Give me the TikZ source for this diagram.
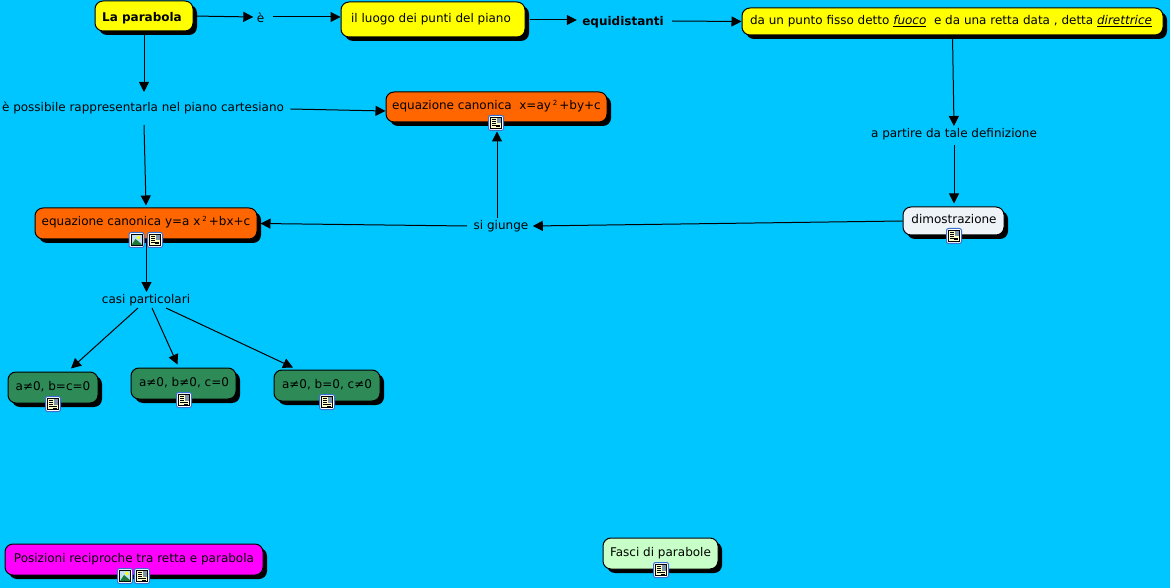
\documentclass[tikz,border=0pt]{standalone}
\usepackage{fontspec}
\setmainfont{DejaVu Sans}
\usetikzlibrary{arrows.meta,shadows}
\definecolor{sfondo}{HTML}{00C6FF}
\definecolor{giallo}{HTML}{FFFF00}
\definecolor{arancio}{HTML}{FF6600}
\definecolor{verde}{HTML}{2E8B57}
\definecolor{verdino}{HTML}{C8FFC8}
\definecolor{chiaro}{HTML}{EEF3F8}
\definecolor{fucsia}{HTML}{FF00FF}
\definecolor{bordoicona}{HTML}{3A6FD0}
\definecolor{crema}{HTML}{FFFFC8}
\definecolor{cielo}{HTML}{BFE0F0}
\definecolor{prato}{HTML}{1F7A3A}
\definecolor{foto}{HTML}{7F93A8}
\newcommand{\quadrato}{\raisebox{4pt}{\fontsize{7}{7}\selectfont 2}}
\tikzset{
	>={Triangle[length=10pt,width=10pt]},
	concept/.style={draw,rounded corners=8pt,inner sep=0pt,line width=1pt,
		drop shadow={shadow xshift=4pt,shadow yshift=-4pt,fill=black,opacity=1}},
	lifted/.style={text height=9pt,text depth=3pt},
	linking/.style={inner sep=0pt,text height=9pt,text depth=2pt},
	notepic/.pic={
		\draw[rounded corners=2pt,draw=bordoicona,fill=white,line width=1pt] (-7.5,-7.5) rectangle (7.5,7.5);
		\draw[fill=crema,line width=1pt] (-5.5,-5.5) rectangle (5.5,5.5);
		\fill[foto] (0.5,-5) rectangle (5,0.5);
		\foreach \y in {-3.5,-1.5,0.5,2.5} {\draw[line width=1pt] (-4,\y) -- (0,\y);}
		\foreach \y in {2.5,4} {\draw[line width=1pt] (0,\y) -- (4,\y);}
	},
	imagepic/.pic={
		\draw[rounded corners=2pt,draw=bordoicona,fill=white,line width=1pt] (-7.5,-7.5) rectangle (7.5,7.5);
		\draw[fill=cielo,line width=1pt] (-5.5,-5.5) rectangle (5.5,5.5);
		\fill[prato] (-5,5) -- (-1,-1) -- (5,4) -- (5,5) -- cycle;
		\fill[giallo] (2,-2.5) circle (1.8);
	},
}
\begin{document}
\begin{tikzpicture}[x=1pt,y=-1pt,line width=1pt,every node/.style={font=\fontsize{12}{14}\selectfont}]
	\useasboundingbox[fill=sfondo] (0,0) rectangle (1170,588);
	\node[concept,fill=giallo,minimum width=98pt,minimum height=30pt,text height=11pt,text depth=0pt] (P) at (144,16) {\textbf{La parabola}\hspace*{4pt}};
	\node[concept,fill=giallo,minimum width=184pt,minimum height=35pt] (L) at (433,19.5) {il luogo dei punti del piano\hspace*{4pt}};
	\node[concept,fill=giallo,minimum width=421pt,minimum height=27pt] (D) at (952.5,21.5) {da un punto fisso detto \underline{\textit{fuoco}}\ \ e da una retta data , detta \underline{\textit{direttrice}}\hspace*{3pt}};
	\node[concept,lifted,fill=arancio,minimum width=221pt,minimum height=30pt] (X) at (496.5,107) {equazione canonica\ \ x=ay\,\quadrato\,+by+c};
	\node[concept,lifted,fill=arancio,minimum width=222pt,minimum height=31pt,text depth=4pt,text height=8pt] (Y) at (146,223.5) {equazione canonica y=a x\,\quadrato\,+bx+c};
	\node[concept,lifted,fill=chiaro,minimum width=101pt,minimum height=28pt] (M) at (953.5,221) {\hspace*{1pt}dimostrazione};
	\node[concept,lifted,fill=verde,minimum width=90pt,minimum height=31pt] (A) at (53,387.5) {a≠0, b=c=0};
	\node[concept,lifted,fill=verde,minimum width=105pt,minimum height=31pt] (B) at (183.5,383.5) {\hspace*{1pt}a≠0, b≠0, c=0};
	\node[concept,lifted,fill=verde,minimum width=106pt,minimum height=31pt] (C) at (327,385.5) {a≠0, b=0, c≠0};
	\node[concept,lifted,fill=fucsia,minimum width=258pt,minimum height=31pt] (R) at (134,559.5) {Posizioni reciproche tra retta e parabola};
	\node[concept,lifted,fill=verdino,minimum width=115pt,minimum height=31pt] (F) at (660.5,553.5) {Fasci di parabole};
	\node[linking] (E) at (260.5,19) {è};
	\node[linking] (Q) at (623,22) {\textbf{equidistanti}};
	\node[linking] (H) at (143,108) {è possibile rappresentarla nel piano cartesiano};
	\node[linking] (T) at (954,134) {a partire da tale definizione};
	\node[linking] (G) at (501,226) {si giunge};
	\node[linking] (K) at (146,300) {casi particolari};
	\draw[->] (P.east) -- ([xshift=-3pt,yshift=2pt]E.west);
	\draw[->] ([xshift=8pt,yshift=2pt]E.east) -- ([yshift=2.5pt]L.west);
	\draw[->] ([xshift=4pt,yshift=-0.5pt]L.east) -- ([xshift=-5pt,yshift=2pt]Q.west);
	\draw[->] ([xshift=8pt,yshift=1pt]Q.east) -- (D.west);
	\draw[->] (P.south) -- ([xshift=1pt,yshift=10pt]H.north);
	\draw[->] ([xshift=6pt,yshift=-1pt]H.east) -- ([yshift=-4pt]X.west);
	\draw[->] ([xshift=1pt,yshift=-11pt]H.south) -- ([yshift=2pt]Y.north);
	\draw[->] ([xshift=0.5pt]Y.south) -- ([xshift=0.5pt,yshift=2pt]K.north);
	\draw[->] ([xshift=-8pt,yshift=-2pt]K.south) -- ([xshift=18pt,yshift=3pt]A.north);
	\draw[->] ([xshift=6pt,yshift=-2pt]K.south) -- ([xshift=-6pt,yshift=3pt]B.north);
	\draw[->] ([xshift=20pt,yshift=-2pt]K.south) -- ([xshift=-34pt,yshift=2pt]C.north);
	\draw[->] (D.south) -- ([yshift=2pt]T.north);
	\draw[->] ([yshift=-5pt]T.south) -- ([xshift=0.5pt,yshift=3pt]M.north);
	\draw[->] (M.west) -- ([xshift=4pt]G.east);
	\draw[->] ([xshift=-6pt]G.west) -- ([xshift=3pt]Y.east);
	\draw[->] ([xshift=-4pt,yshift=2pt]G.north) -- ([xshift=0.5pt,yshift=-9pt]X.south);
	\pic at (496,123) {notepic};
	\pic at (136.5,240) {imagepic};
	\pic at (155,240) {notepic};
	\pic at (954,236) {notepic};
	\pic at (53,404) {notepic};
	\pic at (184,400) {notepic};
	\pic at (327,402) {notepic};
	\pic at (125,576) {imagepic};
	\pic at (142,576) {notepic};
	\pic at (661,570) {notepic};
\end{tikzpicture}
\end{document}
